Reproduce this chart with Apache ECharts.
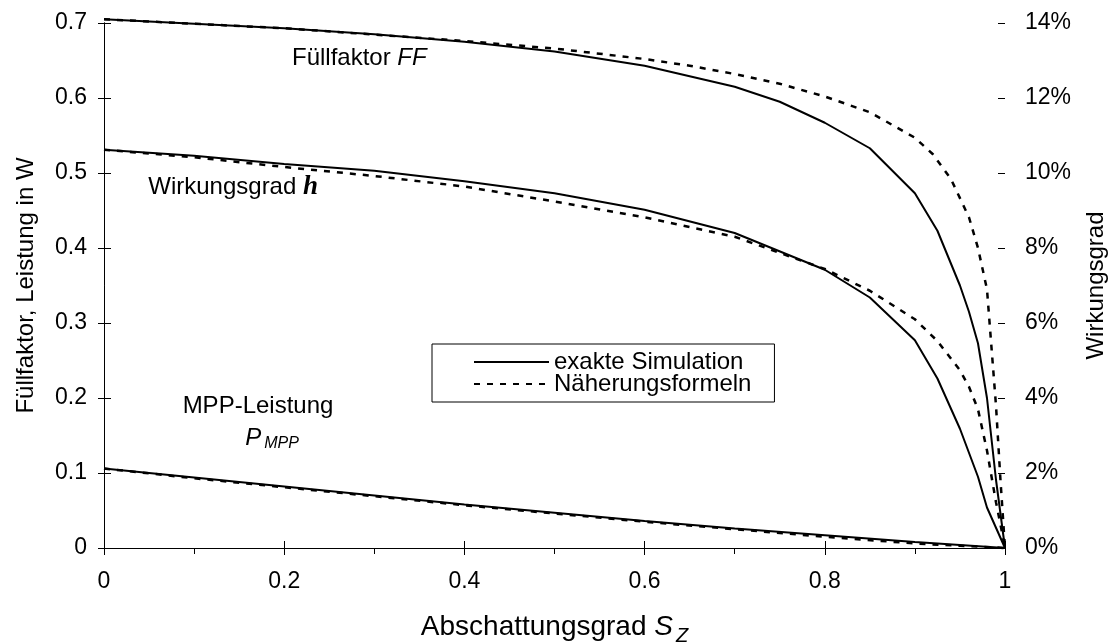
<!DOCTYPE html>
<html>
<head>
<meta charset="utf-8">
<script src="https://cdn.jsdelivr.net/npm/echarts@6/dist/echarts.min.js"></script>
<style>
  html, body { margin: 0; padding: 0; background: #ffffff; overflow: hidden; }
  #chart { width: 1114px; height: 642px; }
</style>
</head>
<body>
<div id="chart"></div>
<script>
// Abschattungsgrad S_Z (x) and the curves: fill factor, efficiency (%), MPP power (W)
const ffExactS   = [0, 0.1, 0.2, 0.3, 0.4, 0.5, 0.6, 0.7, 0.75, 0.8, 0.85, 0.9, 0.925, 0.95, 0.96, 0.97, 0.98, 0.99, 1];
const ffExact    = [0.705, 0.699, 0.693, 0.685, 0.675, 0.662, 0.643, 0.615, 0.595, 0.567, 0.533, 0.473, 0.423, 0.350, 0.315, 0.273, 0.200, 0.091, 0];
const ffApproxS  = [0, 0.2, 0.4, 0.5, 0.6, 0.65, 0.7, 0.75, 0.8, 0.85, 0.9, 0.92, 0.94, 0.96, 0.97, 0.98, 0.99, 0.995, 1];
const ffApprox   = [0.705, 0.693, 0.676, 0.666, 0.652, 0.643, 0.632, 0.619, 0.602, 0.581, 0.547, 0.525, 0.492, 0.441, 0.400, 0.345, 0.190, 0.090, 0];

const etaExactS  = [0, 0.1, 0.2, 0.3, 0.4, 0.5, 0.6, 0.7, 0.8, 0.85, 0.9, 0.925, 0.95, 0.97, 0.98, 1];
const etaExact   = [10.62, 10.46, 10.24, 10.06, 9.78, 9.46, 9.02, 8.40, 7.42, 6.68, 5.54, 4.52, 3.18, 1.90, 1.08, 0];
const etaApproxS = [0, 0.1, 0.2, 0.3, 0.4, 0.5, 0.6, 0.7, 0.8, 0.85, 0.9, 0.925, 0.95, 0.96, 0.97, 0.98, 0.99, 0.995, 1];
const etaApprox  = [10.62, 10.42, 10.16, 9.92, 9.64, 9.24, 8.82, 8.30, 7.44, 6.86, 6.10, 5.52, 4.74, 4.30, 3.70, 2.60, 1.22, 0.62, 0];

const pExactS    = [0, 0.1, 0.2, 0.3, 0.4, 0.5, 0.6, 0.7, 0.8, 0.9, 0.95, 1];
const pExact     = [0.106, 0.094, 0.082, 0.070, 0.058, 0.047, 0.036, 0.026, 0.017, 0.008, 0.004, 0];
const pApproxS   = [0, 0.1, 0.2, 0.3, 0.4, 0.5, 0.6, 0.7, 0.8, 0.9, 0.95, 1];
const pApprox    = [0.106, 0.093, 0.081, 0.069, 0.057, 0.046, 0.035, 0.025, 0.015, 0.006, 0.003, 0];

const leftTicks  = { min: 0, max: 0.7, interval: 0.1 };
const rightTicks = { min: 0, max: 14, interval: 2 };
const xTicks     = { min: 0, max: 1, interval: 0.2 };

const EXACT = 'exakte Simulation';
const APPROX = 'Näherungsformeln';
const FONT = '"Liberation Sans", Arial, sans-serif';

const pairs = (xs, ys) => xs.map((x, i) => [x, ys[i]]);

const solid  = { color: '#000', width: 2, type: 'solid' };
const dashed = { color: '#000', width: 2.5, type: [6, 7] };

function line(name, xs, ys, style, yIdx) {
  return {
    name, type: 'line', xAxisIndex: 0, yAxisIndex: yIdx,
    data: pairs(xs, ys), symbol: 'none', smooth: false, clip: false,
    lineStyle: style, itemStyle: { color: '#000' }, silent: true, z: style.type === 'solid' ? 3 : 2
  };
}

const axisLineStyle = { show: true, lineStyle: { color: '#000', width: 1 } };
const txt = { color: '#000', fontFamily: FONT };

const chart = echarts.init(document.getElementById('chart'), null, { renderer: 'canvas' });

chart.setOption({
  backgroundColor: '#ffffff',
  animation: false,
  grid: { left: 104, right: 109, top: 23, bottom: 94, containLabel: false, outerBoundsMode: 'none' },
  legend: {
    data: [EXACT, APPROX],
    orient: 'vertical',
    left: 432, top: 344,
    selectedMode: false,
    backgroundColor: '#fff',
    borderColor: '#000', borderWidth: 1,
    padding: [6, 23, 6, 41],
    itemGap: -2,
    itemWidth: 75, itemHeight: 14,
    itemStyle: { opacity: 0 },
    textStyle: Object.assign({ fontSize: 24, lineHeight: 21 }, txt)
  },
  xAxis: [
    {
      type: 'value', position: 'bottom', min: xTicks.min, max: xTicks.max, interval: xTicks.interval,
      axisLine: Object.assign({ onZero: false }, axisLineStyle),
      axisTick: { show: true, inside: false, length: 7, lineStyle: { color: '#000' } },
      minorTick: { show: true, splitNumber: 2, length: 6, lineStyle: { color: '#000' } },
      splitLine: { show: false },
      axisLabel: Object.assign({ fontSize: 23, margin: 22 }, txt),
      name: 'Abschattungsgrad {s|S}{z|Z}',
      nameLocation: 'middle', nameGap: 60,
      nameTextStyle: Object.assign({
        fontSize: 28,
        rich: {
          s: { fontSize: 28, fontStyle: 'italic', color: '#000', fontFamily: FONT },
          z: { fontSize: 20, fontStyle: 'italic', color: '#000', fontFamily: FONT, padding: [18, 0, 0, 3] }
        }
      }, txt)
    },
    {
      type: 'value', position: 'bottom', min: xTicks.min, max: xTicks.max, interval: xTicks.interval,
      axisLine: { show: false, onZero: false },
      axisTick: { show: true, inside: true, length: 7, lineStyle: { color: '#000' } },
      axisLabel: { show: false }, splitLine: { show: false }
    }
  ],
  yAxis: [
    {
      type: 'value', position: 'left', min: leftTicks.min, max: leftTicks.max, interval: leftTicks.interval,
      axisLine: axisLineStyle,
      axisTick: { show: true, inside: false, length: 6, lineStyle: { color: '#000' } },
      splitLine: { show: false },
      axisLabel: Object.assign({ fontSize: 23, margin: 17 }, txt),
      name: 'Füllfaktor, Leistung in W',
      nameLocation: 'middle', nameRotate: 90, nameGap: 66,
      nameTextStyle: Object.assign({ fontSize: 24 }, txt)
    },
    {
      type: 'value', position: 'right', min: rightTicks.min, max: rightTicks.max, interval: rightTicks.interval,
      axisLine: axisLineStyle,
      axisTick: { show: true, inside: false, length: 7, lineStyle: { color: '#000' } },
      splitLine: { show: false },
      axisLabel: Object.assign({ fontSize: 23, margin: 20, formatter: '{value}%' }, txt),
      name: 'Wirkungsgrad',
      nameLocation: 'middle', nameRotate: 90, nameGap: 79,
      nameTextStyle: Object.assign({ fontSize: 24 }, txt)
    },
    {
      type: 'value', position: 'left', min: leftTicks.min, max: leftTicks.max, interval: leftTicks.interval,
      axisLine: { show: false },
      axisTick: { show: true, inside: true, length: 6, lineStyle: { color: '#000' } },
      axisLabel: { show: false }, splitLine: { show: false }
    },
    {
      type: 'value', position: 'right', min: rightTicks.min, max: rightTicks.max, interval: rightTicks.interval,
      axisLine: { show: false },
      axisTick: { show: true, inside: true, length: 7, lineStyle: { color: '#000' } },
      axisLabel: { show: false }, splitLine: { show: false }
    }
  ],
  series: [
    line(APPROX, ffApproxS, ffApprox, dashed, 0),
    line(EXACT, ffExactS, ffExact, solid, 0),
    line(APPROX, etaApproxS, etaApprox, dashed, 1),
    line(EXACT, etaExactS, etaExact, solid, 1),
    line(APPROX, pApproxS, pApprox, dashed, 0),
    line(EXACT, pExactS, pExact, solid, 0)
  ],
  graphic: [
    {
      type: 'text', x: 292, y: 58, silent: true,
      style: {
        text: 'Füllfaktor {i|FF}', fill: '#000', font: '24px ' + FONT, verticalAlign: 'middle',
        rich: { i: { fontStyle: 'italic', fontSize: 24, fontFamily: FONT, fill: '#000' } }
      }
    },
    {
      type: 'text', x: 318, y: 187, silent: true,
      style: {
        text: 'Wirkungsgrad {h|h}', fill: '#000', font: '24px ' + FONT, align: 'right', verticalAlign: 'middle',
        rich: { h: { fontStyle: 'italic', fontWeight: 'bold', fontSize: 27, fontFamily: '"Liberation Serif", "Times New Roman", serif', fill: '#000' } }
      }
    },
    {
      type: 'text', x: 258, y: 406, silent: true,
      style: { text: 'MPP-Leistung', fill: '#000', font: '24px ' + FONT, align: 'center', verticalAlign: 'middle' }
    },
    {
      type: 'text', x: 272, y: 438, silent: true,
      style: {
        text: '{p|P}{m|MPP}', fill: '#000', align: 'center', verticalAlign: 'middle',
        rich: {
          p: { fontStyle: 'italic', fontSize: 24, fontFamily: FONT, fill: '#000' },
          m: { fontStyle: 'italic', fontSize: 16, fontFamily: FONT, fill: '#000', padding: [12, 0, 0, 3] }
        }
      }
    }
  ]
});
</script>
</body>
</html>
